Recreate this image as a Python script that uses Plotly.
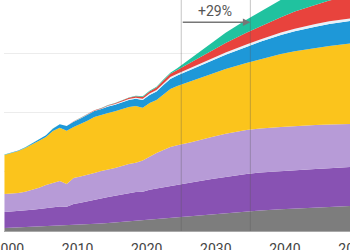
import plotly.graph_objects as go

years = list(range(2000, 2025)) + [2025, 2027, 2030, 2032, 2035, 2037, 2040, 2042, 2045, 2047, 2050]

grey = [0.50, 0.55, 0.60, 0.65, 0.70, 0.75, 0.80, 0.85, 0.90, 0.90, 1.00, 1.05, 1.10, 1.20, 1.25,
        1.35, 1.45, 1.55, 1.65, 1.75, 1.80, 1.95, 2.05, 2.15, 2.25,
        2.35, 2.55, 2.85, 3.05, 3.30, 3.45, 3.65, 3.80, 3.95, 4.05, 4.20]
dark_purple = [2.70, 2.72, 2.76, 2.82, 2.90, 2.96, 3.05, 3.15, 3.25, 3.20, 3.55, 3.72, 3.88, 4.05, 4.20,
               4.38, 4.50, 4.62, 4.75, 4.82, 4.80, 5.00, 5.10, 5.22, 5.34,
               5.43, 5.62, 5.92, 6.10, 6.31, 6.40, 6.47, 6.49, 6.51, 6.55, 6.59]
light_purple = [3.04, 3.03, 3.05, 3.15, 3.31, 3.59, 3.91, 4.12, 4.28, 3.83, 4.39, 4.43, 4.46, 4.55, 4.67,
                4.62, 4.67, 4.78, 4.90, 4.93, 5.30, 5.55, 6.00, 6.28, 6.58,
                6.67, 6.78, 7.08, 7.25, 7.42, 7.45, 7.42, 7.41, 7.42, 7.36, 7.25]
yellow = [6.58, 6.80, 7.08, 7.38, 7.76, 7.90, 8.09, 8.74, 8.97, 8.97, 8.60, 8.84, 9.16, 9.42, 9.38,
          9.55, 9.58, 9.62, 9.60, 9.58, 8.90, 9.10, 8.94, 9.35, 9.78,
          10.00, 10.35, 10.63, 10.90, 11.30, 11.65, 12.31, 12.60, 12.98, 13.24, 13.56]
blue = [0.05, 0.06, 0.08, 0.10, 0.15, 0.20, 0.28, 0.40, 0.60, 0.80, 0.90, 0.95, 1.00, 1.00, 1.05,
        1.10, 1.10, 1.15, 1.20, 1.20, 1.30, 1.35, 1.45, 1.60, 1.70,
        1.75, 1.90, 2.20, 2.40, 2.70, 2.95, 3.20, 3.40, 3.60, 3.70, 3.80]
pale = [0, 0, 0, 0, 0, 0, 0, 0, 0, 0, 0.02, 0.03, 0.05, 0.07, 0.08,
        0.10, 0.12, 0.13, 0.15, 0.17, 0.20, 0.22, 0.25, 0.28, 0.30,
        0.30, 0.33, 0.35, 0.38, 0.40, 0.40, 0.40, 0.42, 0.45, 0.45, 0.45]
red = [0, 0, 0, 0, 0, 0, 0, 0, 0, 0, 0.03, 0.04, 0.05, 0.07, 0.08,
       0.10, 0.12, 0.15, 0.20, 0.25, 0.30, 0.35, 0.40, 0.50, 0.55,
       0.65, 0.90, 1.30, 1.60, 2.00, 2.20, 2.60, 2.90, 3.20, 3.50, 3.80]
teal = [0.02] * 15 + [0.05, 0.06, 0.07, 0.08, 0.09, 0.10, 0.12, 0.15, 0.18, 0.20,
                      0.30, 0.70, 1.40, 1.75, 2.20, 2.45, 2.90, 3.30, 3.80, 4.20, 4.70]

tick_years = [2000, 2010, 2020, 2030, 2040, 2050]
period = [2025, 2035]
change_label = "+29%"

series = [
    (grey, "#7d7d7d"),
    (dark_purple, "#8852b3"),
    (light_purple, "#b79bd7"),
    (yellow, "#fbc41c"),
    (blue, "#1e98d8"),
    (pale, "#e6f2fa"),
    (red, "#e8433d"),
    (teal, "#20c29f"),
]

fig = go.Figure()
for vals, col in series:
    fig.add_trace(go.Scatter(
        x=years, y=vals, mode="lines", stackgroup="one",
        line=dict(width=0, color=col), fillcolor=col, hoverinfo="skip",
    ))

SHIFT = 4
for yr in period:
    fig.add_shape(type="line", xref="x", xsizemode="pixel", xanchor=yr, x0=SHIFT, x1=SHIFT,
                  yref="paper", y0=0, y1=1, line=dict(color="rgba(90,90,90,0.35)", width=1),
                  layer="above")

fig.add_annotation(x=period[1], y=35.2, ax=period[0], ay=35.2, axref="x", ayref="y",
                   xref="x", yref="y", text="", showarrow=True, arrowhead=2, arrowsize=1,
                   arrowwidth=1.5, arrowcolor="#777777", xshift=SHIFT, standoff=0, startstandoff=0)
fig.add_annotation(x=(period[0] + period[1]) / 2, y=37.1, xref="x", yref="y", text=change_label,
                   showarrow=False, xshift=SHIFT - 1,
                   font=dict(family="Roboto", size=14, color="#555555"))

fig.update_layout(
    template="none",
    width=350, height=250, margin=dict(l=4, r=0, t=0, b=19, autoexpand=False),
    paper_bgcolor="white", plot_bgcolor="white", showlegend=False,
    xaxis=dict(range=[1999.93, 2050.0], tickvals=tick_years, ticks="", showgrid=False,
               showline=True, linecolor="#a8a8a8", linewidth=1, zeroline=False,
               automargin=False, ticklabeloverflow="allow",
               ticklabelshift=SHIFT, ticklabelstandoff=5,
               tickfont=dict(family="Roboto", size=14, color="#444444")),
    yaxis=dict(range=[0, 38.95], tickvals=[10, 20, 30], showticklabels=False, ticks="",
               showgrid=True, gridcolor="#ececec", gridwidth=1, zeroline=False, showline=False,
               automargin=False),
)

fig.write_html("out.html")
